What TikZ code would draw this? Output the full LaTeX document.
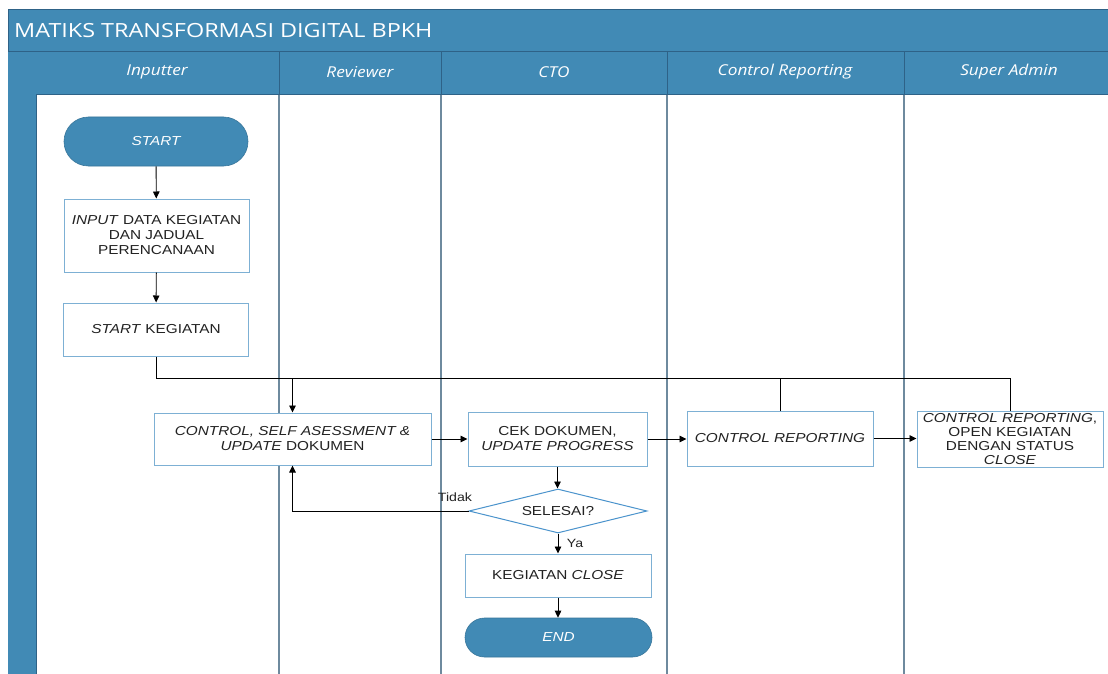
\documentclass[tikz,border=0pt]{standalone}
\usepackage{fontspec}
\setmainfont{Liberation Sans}
\newfontfamily\boxfont[FakeStretch=1.18]{Liberation Sans}
\newfontfamily\hdr[FakeStretch=1.2]{Open Sans}
\newfontfamily\hdrb[FakeStretch=1.15]{Open Sans}
\usetikzlibrary{shapes.geometric,arrows.meta}
\definecolor{laneblue}{HTML}{418AB5}
\definecolor{darkb}{HTML}{2E6287}
\definecolor{laneline}{HTML}{6E8A9E}
\definecolor{boxb}{HTML}{7DB0D4}
\definecolor{diab}{HTML}{4A93CC}
\definecolor{txt}{HTML}{222222}
\tikzset{
  procbox/.style={draw=boxb, fill=white, line width=1pt, inner sep=0pt, align=center,
    text=txt, font=\boxfont\fontsize{13}{15}\selectfont},
  pill/.style={fill=laneblue, draw=laneblue!85!black, line width=0.6pt, inner sep=0pt,
    text=white, font=\boxfont\fontsize{13}{15}\selectfont\itshape},
  decision/.style={diamond, shape aspect=4, draw=diab, fill=white, line width=1pt, inner sep=0pt,
    text=txt, font=\boxfont\fontsize{13}{15}\selectfont},
  arr/.style={-{Triangle[length=7pt,width=6.5pt]}, line width=0.9pt, black},
  conn/.style={line width=0.9pt, black},
  hdrtxt/.style={text=white, font=\hdrb\fontsize{15}{17}\selectfont\itshape},
  lbl/.style={text=txt, font=\boxfont\fontsize{12}{14}\selectfont, inner sep=0pt}
}
\begin{document}
\begin{tikzpicture}[x=1pt,y=-1pt]
\useasboundingbox (0,0) rectangle (1108,674);
\fill[white] (0,0) rectangle (1108,674);
% title bar
\fill[laneblue] (8,10) rectangle (1108,52);
\draw[darkb, line width=1pt] (8,674) -- (8,10) -- (1108,10);
\draw[darkb, line width=1pt] (8,52) -- (1108,52);
\node[anchor=west, text=white, font=\hdr\fontsize{19.5}{22}\selectfont, inner sep=0pt] (title) at (14,31) {MATIKS TRANSFORMASI DIGITAL BPKH};
% left bar
\fill[laneblue] (8,52) rectangle (36,674);
\draw[darkb, line width=1pt] (36,52) -- (36,674);
% header row
\fill[laneblue] (36,52) rectangle (1108,95);
\draw[darkb, line width=1pt] (36,95) -- (1108,95);
\foreach \xx in {279,441,667,904}{
  \draw[darkb, line width=1pt] (\xx,52) -- (\xx,95);
  \draw[laneline, line width=1.3pt] (\xx,95) -- (\xx,674);
}
\node[hdrtxt] (h1) at (157,72) {Inputter};
\node[hdrtxt] (h2) at (360,72) {Reviewer};
\node[hdrtxt] (h3) at (554,72) {CTO};
\node[hdrtxt] (h4) at (785,72) {Control Reporting};
\node[hdrtxt] (h5) at (1009,72) {Super Admin};

% nodes
\node[pill, minimum width=184pt, minimum height=49pt, rounded corners=24.5pt] (start) at (156,141.5) {START};
\node[procbox, minimum width=185pt, minimum height=73pt] (input) at (156.5,235.5) {\textit{INPUT} DATA KEGIATAN\\DAN JADUAL\\PERENCANAAN};
\node[procbox, minimum width=185pt, minimum height=53pt] (startk) at (156,329.5) {\textit{START} KEGIATAN};
\node[procbox, minimum width=277pt, minimum height=52pt] (ctrl) at (292.5,439) {\textit{CONTROL, SELF ASESSMENT \&}\\\textit{UPDATE} DOKUMEN};
\node[procbox, minimum width=179pt, minimum height=54pt] (cek) at (557.5,439) {CEK DOKUMEN,\\\textit{UPDATE PROGRESS}};
\node[procbox, minimum width=186pt, minimum height=55pt] (crep) at (780,438.5) {\textit{CONTROL REPORTING}};
\node[procbox, minimum width=186pt, minimum height=56pt, font=\boxfont\fontsize{13}{14.3}\selectfont] (sadm) at (1010,439) {\textit{CONTROL REPORTING},\\OPEN KEGIATAN\\DENGAN STATUS\\\textit{CLOSE}};
\node[decision, minimum width=178pt, minimum height=44pt] (dec) at (558,511) {SELESAI?};
\node[procbox, minimum width=186pt, minimum height=43pt] (kclose) at (558,575.5) {KEGIATAN \textit{CLOSE}};
\node[pill, minimum width=187pt, minimum height=39pt, rounded corners=19.5pt] (end) at (558.5,637.5) {END};

% connectors
\coordinate (j) at (292.5,378);
\draw[arr] (start) -- (input);
\draw[arr] (input) -- (startk);
\draw[conn] (startk.south) |- (j);
\draw[arr] (j) -- (ctrl.north);
\draw[conn] (j) -| (sadm.north);
\draw[conn] (crep.north) -- (crep.north |- j);
\draw[arr] (ctrl.east) -- (ctrl.east -| cek.west);
\draw[arr] (cek.east) -- (cek.east -| crep.west);
\draw[arr] (crep.east) -- (crep.east -| sadm.west);
\draw[arr] (cek.south) -- (cek.south |- dec.north);
\draw[arr] (dec.west) -| (ctrl.south);
\draw[arr] (dec.south) -- (dec.south |- kclose.north);
\draw[arr] (kclose.south) -- (kclose.south |- end.north);
\node[lbl] (tidak) at (455,497) {Tidak};
\node[lbl] (ya) at (575,543) {Ya};
\end{tikzpicture}
\end{document}
